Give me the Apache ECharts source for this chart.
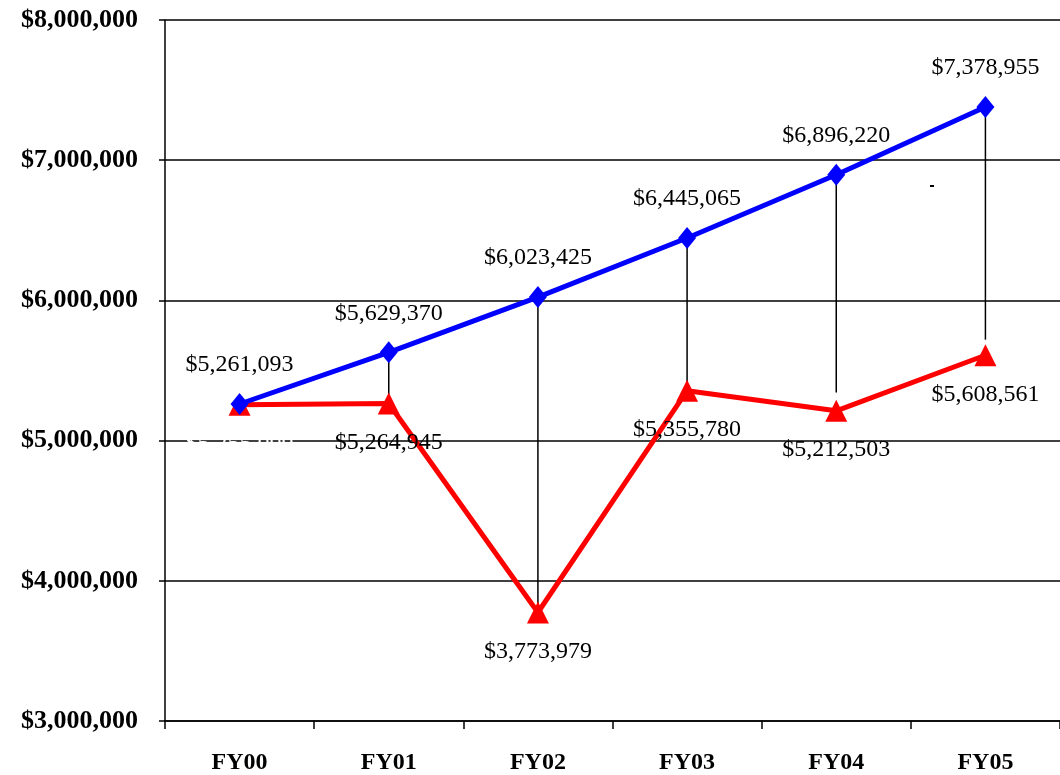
<!DOCTYPE html>
<html>
<head>
<meta charset="utf-8">
<script src="https://cdn.jsdelivr.net/npm/echarts@6/dist/echarts.min.js"></script>
<style>
  html, body { margin: 0; padding: 0; background: #ffffff; }
  #chart { width: 1060px; height: 775px; }
</style>
</head>
<body>
<div id="chart"></div>
<script>
// Fiscal years on the category axis
const years = ['FY00', 'FY01', 'FY02', 'FY03', 'FY04', 'FY05'];
// Upper (blue) series values
const blueValues = [5261093, 5629370, 6023425, 6445065, 6896220, 7378955];
// Lower (red) series values
const redValues = [5255000, 5264945, 3773979, 5355780, 5212503, 5608561];
// Vertical connector lines: top and bottom value for each year (null = none)
const dropTop = [null, 5629370, 6023425, 6445065, 6896220, 7378955];
const dropBottom = [null, 5215000, 3750000, 5350000, 5343000, 5720000];
// Value axis range and step
const yMin = 3000000, yMax = 8000000, yStep = 1000000;

const money = v => '$' + String(Math.round(v)).replace(/\B(?=(\d{3})+(?!\d))/g, ',');
const serif = '"Liberation Serif", "Times New Roman", serif';

const chart = echarts.init(document.getElementById('chart'), null, { renderer: 'canvas' });

const dropData = years.map((y, i) => [i, dropTop[i], dropBottom[i]]).filter(d => d[1] != null);

chart.setOption({
  animation: false,
  backgroundColor: '#ffffff',
  grid: { left: 165, right: 0, top: 20, bottom: 53, containLabel: false },
  xAxis: {
    type: 'category',
    data: years,
    boundaryGap: true,
    axisLine: { show: true, lineStyle: { color: '#000', width: 1.5 } },
    axisTick: { show: true, length: 8, lineStyle: { color: '#000', width: 1.5 } },
    axisLabel: { color: '#000', fontFamily: serif, fontWeight: 'bold', fontSize: 24, margin: 30 },
    splitLine: { show: false }
  },
  yAxis: {
    type: 'value',
    min: yMin, max: yMax, interval: yStep,
    axisLine: { show: true, lineStyle: { color: '#000', width: 1.5 } },
    axisTick: { show: true, length: 6, lineStyle: { color: '#000', width: 1.5 } },
    axisLabel: { color: '#000', fontFamily: serif, fontWeight: 'bold', fontSize: 26, margin: 27, formatter: money },
    splitLine: { show: true, lineStyle: { color: '#000', width: 1.5 } }
  },
  series: [
    {
      type: 'custom',
      name: 'connectors',
      z: 1,
      data: dropData,
      encode: { x: 0, y: [1, 2] },
      renderItem: function (params, api) {
        const top = api.coord([api.value(0), api.value(1)]);
        const bot = api.coord([api.value(0), api.value(2)]);
        return {
          type: 'line',
          shape: { x1: top[0], y1: top[1], x2: bot[0], y2: bot[1] },
          style: { stroke: '#000', lineWidth: 1.5 }
        };
      }
    },
    {
      type: 'line',
      name: 'Lower',
      z: 2,
      data: redValues.map((v, i) => i === 0
        ? { value: v, label: { color: '#ffffff' } }
        : v),
      lineStyle: { color: '#ff0000', width: 5 },
      itemStyle: { color: '#ff0000' },
      symbol: 'triangle',
      symbolSize: 22,
      label: {
        show: true,
        position: 'bottom',
        distance: 16,
        color: '#000',
        fontFamily: serif,
        fontSize: 24,
        formatter: p => money(p.value)
      }
    },
    {
      type: 'line',
      name: 'Upper',
      z: 3,
      data: blueValues,
      lineStyle: { color: '#0000ff', width: 5 },
      itemStyle: { color: '#0000ff' },
      symbol: 'diamond',
      symbolSize: [18, 22],
      label: {
        show: true,
        position: 'top',
        distance: 16,
        color: '#000',
        fontFamily: serif,
        fontSize: 24,
        formatter: p => money(p.value)
      }
    }
  ],
  graphic: [
    { type: 'rect', left: 930, top: 185, shape: { width: 4, height: 2 }, style: { fill: '#000' } }
  ]
});
</script>
</body>
</html>
